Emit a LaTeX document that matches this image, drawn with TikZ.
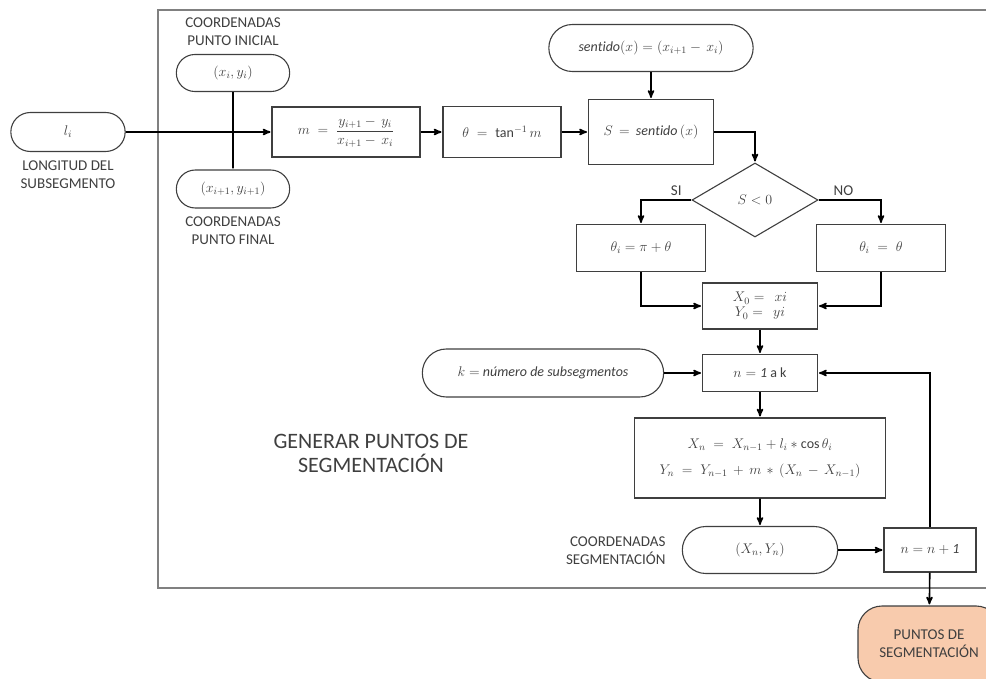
\documentclass[tikz,border=0pt]{standalone}
\usepackage{fix-cm}
\usepackage{amsmath}
\usepackage{fontspec}
\setmainfont{Carlito}
\usetikzlibrary{arrows,shapes.geometric,shapes.misc}
\definecolor{gristxt}{HTML}{3F3F3F}
\definecolor{grismarco}{HTML}{808080}
\definecolor{durazno}{HTML}{F8CBAD}

\begin{document}
\begin{tikzpicture}[x=1pt,y=-1pt,>=stealth',shorten >=1pt,
	every node/.style={text=gristxt},
	proc/.style={draw=gristxt,line width=1.1pt,rectangle,align=center,font=\fontsize{14}{17}\selectfont},
	term/.style={draw=gristxt,line width=1.1pt,rounded rectangle,font=\fontsize{14}{17}\selectfont},
	decision/.style={draw=gristxt,line width=1.1pt,diamond,aspect=1.7,inner sep=0pt,font=\fontsize{14}{17}\selectfont},
	etiq/.style={align=center,font=\fontsize{15}{18}\selectfont},
	flecha/.style={line width=1.6pt,draw=black}]

\useasboundingbox (0,0) rectangle (986,679);
\draw[grismarco,line width=1.6pt] (990,10) -- (158,10) -- (158,588) -- (990,588);

\node[term,minimum width=121pt,minimum height=39pt]   (li)  at (68,132)   {$l_i$};
\node[proc,minimum width=148pt,minimum height=50pt]   (m)   [right of=li,node distance=278pt]   {$m \;=\; \dfrac{y_{i+1}-\,y_i}{x_{i+1}-\,x_i}$};
\node[proc,minimum width=118pt,minimum height=51pt]   (theta)   [right of=m,node distance=156pt]   {$\theta \;=\; \tan^{-1} m$};
\node[proc,minimum width=125pt,minimum height=65pt]   (S)   [right of=theta,node distance=149pt]   {$S \,=\, \mathit{sentido}\,(x)$};
\node[term,minimum width=211pt,minimum height=47pt]   (sent)   [above of=S,node distance=84pt]   {$\mathit{sentido}(x) = (x_{i+1} - \,x_i)$};
\node[term,minimum width=120pt,minimum height=37pt]   (ini)   at (233,73)   {$(x_i, y_i)$};
\node[term,minimum width=120pt,minimum height=38pt]   (fin)   at (233,189)   {$(x_{i+1}, y_{i+1})$};

\node[decision,minimum width=126pt,minimum height=74pt]   (dec)   at (755,200)   {$S<0$};
\node[proc,minimum width=129pt,minimum height=47pt]   (thi1)   at (641,248)   {$\theta_i = \pi + \theta$};
\node[proc,minimum width=129pt,minimum height=47pt]   (thi2)   [right of=thi1,node distance=240pt]   {$\theta_i \;=\; \theta$};
\node[proc,minimum width=115pt,minimum height=46pt,font=\fontsize{14}{15}\selectfont]   (ori)   at (760,306)   {$X_0 = \;\, xi$\\$Y_0 = \;\, yi$};
\node[proc,minimum width=115pt,minimum height=37pt]   (n)   [below of=ori,node distance=67pt]   {$n = \mathit{1}$ a k};
\node[term,minimum width=248pt,minimum height=48pt]   (k)   [left of=n,node distance=217pt]   {$k =$ \textit{número de subsegmentos}};
\node[proc,minimum width=251pt,minimum height=80pt]   (xy)   [below of=n,node distance=85pt]   {$X_n \;=\; X_{n-1} + l_i * \cos\theta_i$\\[9pt]$Y_n \;=\; Y_{n-1} \,+\, m \,*\, (X_n \,-\, X_{n-1})$};
\node[term,minimum width=162pt,minimum height=47pt]   (xn)   [below of=xy,node distance=92pt]   {$(X_n, Y_n)$};
\node[proc,minimum width=92pt,minimum height=44pt]   (nn)   [right of=xn,node distance=170pt]   {$n = n + \mathit{1}$};
\node[draw=gristxt,line width=1.1pt,fill=durazno,rounded corners=24pt,minimum width=142pt,minimum height=76pt,etiq]   (pts)   at (929,644)   {PUNTOS DE\\SEGMENTACIÓN};

\node[etiq]   (lbli)   [below of=li,node distance=43pt]   {LONGITUD DEL\\SUBSEGMENTO};
\node[etiq]   (lbini)   [above of=ini,node distance=41pt]   {COORDENADAS\\PUNTO INICIAL};
\node[etiq]   (lbfin)   [below of=fin,node distance=42pt]   {COORDENADAS\\PUNTO FINAL};
\node[etiq,align=right,anchor=east]   (lbxn)   at (669,551)   {COORDENADAS\\SEGMENTACIÓN};
\node[align=center,font=\fontsize{22}{24}\selectfont]   (gen)   at (371,453)   {GENERAR PUNTOS DE\\SEGMENTACIÓN};

\draw[flecha] (ini) -- (fin);

\path[->,flecha] (li)  edge  (m)
	(m)  edge  (theta)
	(theta)  edge  (S)
	(sent)  edge  (S)
	(ori)  edge  (n)
	(k)  edge  (n)
	(n)  edge  (xy)
	(xy)  edge  (xn)
	(xn)  edge  (nn)
	(nn)  edge  (pts);

\draw[->,flecha] (S.east) -| (dec.north);
\draw[->,flecha] (dec.west) -| node[etiq,above,pos=0.15] {SI} (thi1.north);
\draw[->,flecha] (dec.east) -| node[etiq,above,pos=0.2] {NO} (thi2.north);
\draw[->,flecha] (thi1.south) |- (ori.west);
\draw[->,flecha] (thi2.south) |- (ori.east);
\draw[->,flecha] (nn.north) |- (n.east);

\end{tikzpicture}
\end{document}
